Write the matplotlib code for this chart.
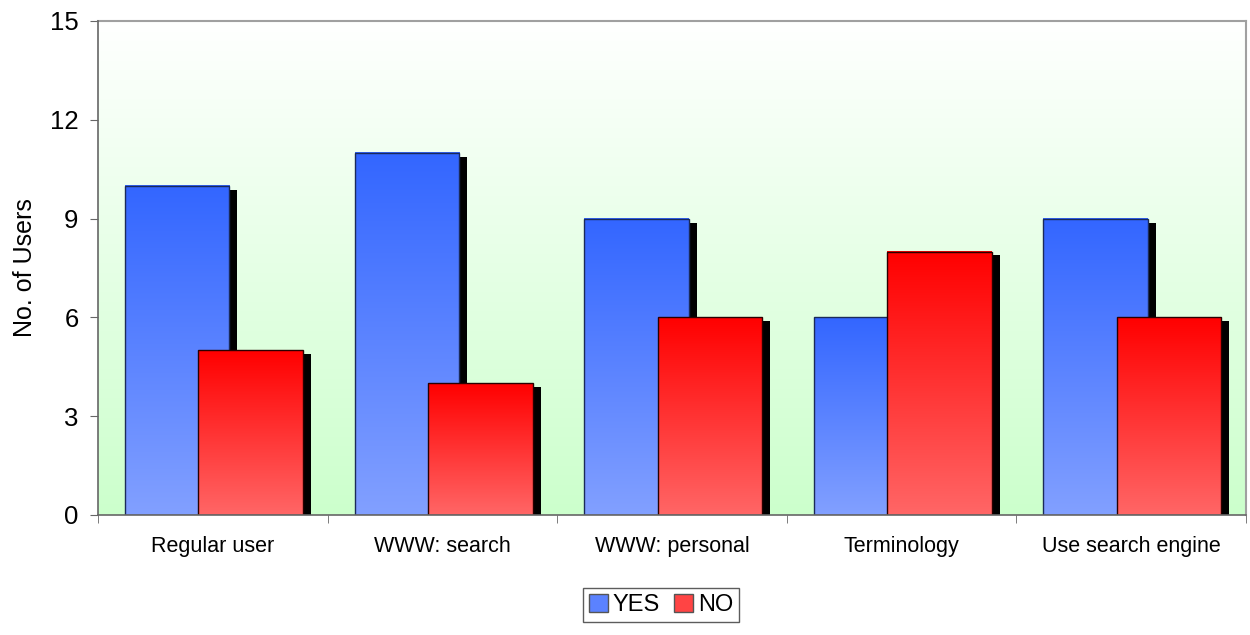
import numpy as np
import matplotlib
matplotlib.use("Agg")
import matplotlib.pyplot as plt
from matplotlib.colors import LinearSegmentedColormap
from matplotlib.patches import Patch

categories = ["Regular user", "WWW: search", "WWW: personal", "Terminology", "Use search engine"]
yes_values = [10, 11, 9, 6, 9]
no_values = [5, 4, 6, 8, 6]
y_ticks = [0, 3, 6, 9, 12, 15]

plt.rcParams['font.family'] = ['Liberation Sans', 'DejaVu Sans']

fig = plt.figure(figsize=(12.5, 6.35), dpi=100)
ax = fig.add_axes([98/1250, 1-515/635, (1246-98)/1250, (515-21)/635])

x = np.arange(1, len(categories)+1)

# background gradient
bg = LinearSegmentedColormap.from_list("bg", ["#CCFFCC", "#FFFFFF"])
grad = np.linspace(0, 1, 256).reshape(-1, 1)
ax.imshow(grad, cmap=bg, origin="lower", extent=[0, 1, 0, 1], transform=ax.transAxes,
          aspect="auto", zorder=0)

width = 0.455
off_yes = -0.155
off_no = 0.165
sdx = 0.035
sdy = 0.12

blue_cmap = LinearSegmentedColormap.from_list("b", ["#82A0FF", "#3366FF"])
red_cmap = LinearSegmentedColormap.from_list("r", ["#FF6666", "#FF0000"])

def draw_series(vals, off, cmap, edge, z):
    ax.bar(x + off + sdx, np.array(vals) - sdy, width=width, color="black",
           linewidth=0, zorder=z)
    bars = ax.bar(x + off, vals, width=width, color="none", edgecolor=edge,
                  linewidth=1.0, zorder=z + 2)
    for b in bars:
        x0 = b.get_x()
        h = b.get_height()
        ax.imshow(grad, cmap=cmap, origin="lower",
                  extent=[x0, x0 + b.get_width(), 0, h], aspect="auto",
                  zorder=z + 1)

draw_series(yes_values, off_yes, blue_cmap, "#1a2a5a", 2)
draw_series(no_values, off_no, red_cmap, "#2a0000", 5)
ax.set_xlim(0.5, len(categories)+0.5)
ax.set_ylim(0, 15)

ax.set_yticks(y_ticks)
ax.set_yticklabels([str(t) for t in y_ticks], fontsize=18.5)
ax.set_xticks(x)
ax.set_xticklabels(categories, fontsize=15.5)
ax.tick_params(axis="x", length=0, pad=15)
ax.set_xticks(np.arange(0.5, len(categories)+1, 1), minor=True)
ax.tick_params(axis="x", which="minor", length=6, color="#666666", direction="out")
ax.tick_params(axis="y", length=6, color="#666666", direction="out", pad=8)

for s in ["left", "bottom"]:
    ax.spines[s].set_color("#666666")
    ax.spines[s].set_linewidth(1.2)
for s in ["top", "right"]:
    ax.spines[s].set_color("#A0A0A0")
    ax.spines[s].set_linewidth(1.5)
ax.spines["left"].set_zorder(10)
ax.spines["bottom"].set_zorder(10)

ax.set_ylabel("No. of Users", fontsize=18, labelpad=9)

handles = [Patch(facecolor="#5B82FF", edgecolor="#555555"),
           Patch(facecolor="#FF4444", edgecolor="#555555")]
leg = fig.legend(handles, ["YES", "NO"], loc="center", bbox_to_anchor=(661/1250, 1-605/635),
                 ncol=2, fontsize=17, frameon=True, fancybox=False, edgecolor="#333333",
                 handlelength=0.8, handleheight=0.8, handletextpad=0.2, columnspacing=0.6,
                 borderpad=0.25, borderaxespad=0)
leg.get_frame().set_linewidth(1.0)

fig.savefig("out.png", dpi=100)
